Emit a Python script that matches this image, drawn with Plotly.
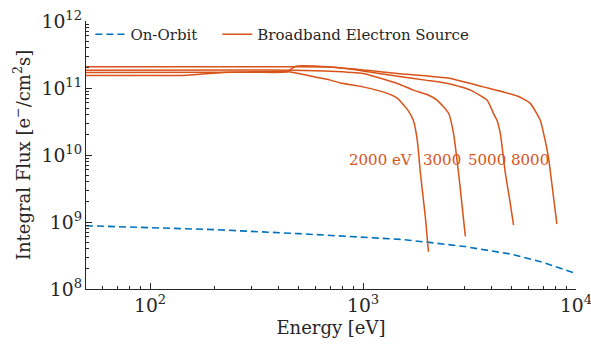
import math
import plotly.graph_objects as go

# On-orbit integral flux
orbit_E = [50, 100, 200, 500, 1000, 1500, 2000, 3000, 5000, 7000, 10000]
orbit_F = [8.8e8, 8.3e8, 7.7e8, 6.7e8, 5.9e8, 5.5e8, 5.0e8, 4.3e8, 3.3e8, 2.5e8, 1.7e8]

# Broadband electron source curves (end energies 2000, 3000, 5000, 8000 eV)
src2000_E = [50, 150, 220, 456, 600, 702, 782, 1000, 1300, 1450, 1614, 1722, 1797, 1860, 1961, 2028]
src2000_F = [1.54e11, 1.55e11, 1.71e11, 1.74e11, 1.45e11, 1.31e11, 1.19e11, 1.04e11, 8.3e10, 7.0e10,
             4.8e10, 3.3e10, 1.67e10, 5.3e9, 1.19e9, 3.6e8]

src3000_E = [50, 300, 456, 702, 1000, 1450, 1722, 2000, 2225, 2521, 2660, 2810, 2900, 3023]
src3000_F = [1.84e11, 1.86e11, 1.84e11, 1.78e11, 1.65e11, 1.17e11, 9.3e10, 8.0e10, 6.6e10, 4.2e10,
             2.1e10, 5.3e9, 2.1e9, 6.1e8]

src5000_E = [50, 300, 440, 480, 702, 1000, 1450, 2000, 2568, 3192, 3820, 4094, 4253, 4411, 4661, 4900, 5091]
src5000_F = [1.71e11, 1.72e11, 1.74e11, 2.10e11, 2.05e11, 1.80e11, 1.50e11, 1.30e11, 1.15e11, 9.3e10,
             6.6e10, 4.2e10, 3.3e10, 2.1e10, 5.3e9, 2.0e9, 9.0e8]

src8000_E = [50, 300, 702, 1450, 2568, 3675, 5300, 6098, 6795, 7044, 7420, 7836, 8133]
src8000_F = [2.07e11, 2.07e11, 2.06e11, 1.65e11, 1.39e11, 1.04e11, 7.6e10, 5.9e10, 3.3e10, 2.1e10,
             9.3e9, 2.4e9, 9.3e8]

label_text = ["2000 eV", "3000", "5000", "8000"]
label_E = [1219, 2357, 3834, 6098]
label_F = [8.4e9, 8.4e9, 8.4e9, 8.4e9]

BLUE = "#0072BD"
RED = "#D95319"
FONT = "DejaVu Serif"
INK = "#262626"

fig = go.Figure()
fig.add_trace(go.Scatter(x=orbit_E, y=orbit_F, mode="lines", name="On-Orbit", legend="legend",
                         showlegend=True,
                         line=dict(color=BLUE, width=1.6, dash="7px,4px")))
curves = [(src2000_E, src2000_F), (src3000_E, src3000_F), (src5000_E, src5000_F), (src8000_E, src8000_F)]
for i, (e, f) in enumerate(curves):
    fig.add_trace(go.Scatter(x=e, y=f, mode="lines", name="Broadband Electron Source", legend="legend2",
                             line=dict(color=RED, width=1.5, shape="spline", smoothing=0.5),
                             showlegend=(i == 0)))

# log axes: annotation positions are given in log10 units
for t, e, f in zip(label_text, label_E, label_F):
    fig.add_annotation(x=math.log10(e), y=math.log10(f), xref="x", yref="y", text=t, showarrow=False,
                       font=dict(family=FONT, size=15, color=RED))

axis_common = dict(type="log", showgrid=False, zeroline=False, showline=True,
                   linecolor=INK, linewidth=1, ticks="inside", ticklen=6,
                   tickcolor=INK, dtick=1, exponentformat="power", ticklabeloverflow="allow",
                   automargin=False,
                   tickfont=dict(family=FONT, size=15, color=INK),
                   minor=dict(ticks="inside", ticklen=3, tickcolor=INK, dtick="D1"))

fig.update_xaxes(**axis_common, range=[math.log10(50), 4],
                 title=dict(text="Energy [eV]", font=dict(family=FONT, size=18, color=INK), standoff=6))
fig.update_yaxes(**axis_common, range=[8, 12],
                 title=dict(text="Integral Flux [e<sup>−</sup>/cm<sup>2</sup>s]",
                            font=dict(family=FONT, size=18, color=INK), standoff=6))

legend_common = dict(orientation="h", y=1.011, xanchor="left", yanchor="top",
                     font=dict(family=FONT, size=15, color=INK),
                     bgcolor="rgba(0,0,0,0)", itemwidth=30, visible=True)

fig.update_layout(
    width=591, height=350,
    margin=dict(l=86, r=15, t=21, b=61, autoexpand=False),
    plot_bgcolor="white", paper_bgcolor="white",
    font=dict(family=FONT, color=INK),
    showlegend=True,
    legend=dict(**legend_common, x=0.009),
    legend2=dict(**legend_common, x=0.268),
)

fig.write_html("out.html")
